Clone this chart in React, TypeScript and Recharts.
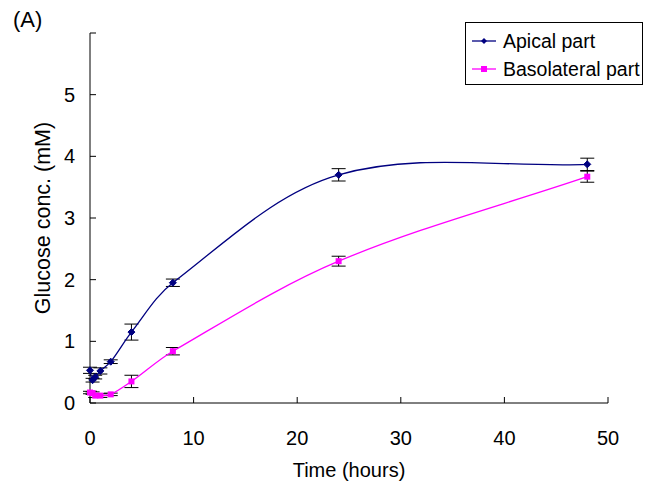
import React from 'react';
import {
  LineChart, Line, XAxis, YAxis, ErrorBar, Legend,
} from 'recharts';

// sampling times (hours)
const times = [0, 0.25, 0.5, 1, 2, 4, 8, 24, 48];

// glucose concentration (mM)
const apical = [0.53, 0.37, 0.42, 0.52, 0.67, 1.15, 1.95, 3.7, 3.87];
const apicalErr = [0.05, 0.03, 0.03, 0.05, 0.03, 0.13, 0.06, 0.1, 0.1];
const basolateral = [0.17, 0.16, 0.12, 0.12, 0.14, 0.35, 0.84, 2.3, 3.67];
const basolateralErr = [0.02, 0.02, 0.03, 0.03, 0.02, 0.1, 0.06, 0.08, 0.09];

const xTicks = [0, 10, 20, 30, 40, 50];
const yTicks = [0, 1, 2, 3, 4, 5, 6];

const APICAL = '#000080';
const BASO = '#FF00FF';
const FONT = '"Liberation Sans", Arial, sans-serif';

const data = times.map((t, i) => ({
  time: t,
  apical: apical[i],
  apicalErr: apicalErr[i],
  baso: basolateral[i],
  basoErr: basolateralErr[i],
}));

// smoothed line like Excel: tangent from neighbours, handle length from segment length
const smoothCurve = (ctx: any) => {
  let pts: [number, number][] = [];
  const tangent = (a: [number, number], b: [number, number]) => {
    const dx = b[0] - a[0];
    const dy = b[1] - a[1];
    const len = Math.hypot(dx, dy) || 1;
    return [dx / len, dy / len];
  };
  return {
    areaStart() {},
    areaEnd() {},
    lineStart() { pts = []; },
    point(x: number, y: number) { pts.push([+x, +y]); },
    lineEnd() {
      if (!pts.length) return;
      ctx.moveTo(pts[0][0], pts[0][1]);
      for (let i = 0; i < pts.length - 1; i++) {
        const p0 = pts[i - 1] || pts[i];
        const p1 = pts[i];
        const p2 = pts[i + 1];
        const p3 = pts[i + 2] || p2;
        const seg = Math.hypot(p2[0] - p1[0], p2[1] - p1[1]) / 3;
        const t1 = tangent(p0, p2);
        const t2 = tangent(p1, p3);
        ctx.bezierCurveTo(
          p1[0] + t1[0] * seg, p1[1] + t1[1] * seg,
          p2[0] - t2[0] * seg, p2[1] - t2[1] * seg,
          p2[0], p2[1],
        );
      }
    },
  };
};

const Diamond = (props: any) => {
  const { cx, cy } = props;
  if (cx == null || cy == null) return null;
  const r = 3.5;
  return <path d={`M${cx},${cy - r}L${cx + r},${cy}L${cx},${cy + r}L${cx - r},${cy}Z`} fill={APICAL} stroke={APICAL} />;
};

const Square = (props: any) => {
  const { cx, cy } = props;
  if (cx == null || cy == null) return null;
  return <rect x={cx - 3} y={cy - 3} width={6} height={6} fill={BASO} />;
};

const LegendBox = () => (
  <div style={{
    border: '1px solid #000', background: '#fff', width: 178, height: 63,
    boxSizing: 'border-box', fontFamily: FONT, fontSize: 19.5, padding: '4px 0 0 6px',
  }}>
    {[{ name: 'Apical part', color: APICAL, shape: 'd' }, { name: 'Basolateral part', color: BASO, shape: 's' }].map((s) => (
      <div key={s.name} style={{ display: 'flex', alignItems: 'center', height: 28 }}>
        <svg width={24} height={10} style={{ marginRight: 7 }}>
          <line x1={0} y1={5} x2={24} y2={5} stroke={s.color} strokeWidth={1.3} />
          {s.shape === 'd'
            ? <path d="M12,2L15,5L12,8L9,5Z" fill={s.color} />
            : <rect x={9} y={2} width={6} height={6} fill={s.color} />}
        </svg>
        <span>{s.name}</span>
      </div>
    ))}
  </div>
);

export default function App() {
  return (
    <div style={{ position: 'absolute', left: 0, top: 0, width: 648, height: 493, background: '#fff' }}>
      <div style={{ position: 'absolute', left: 13, top: 7, fontFamily: FONT, fontSize: 22, color: '#000' }}>(A)</div>
      <LineChart width={648} height={493} data={data} margin={{ top: 33, right: 40, bottom: 30, left: 40 }}>
        <XAxis
          dataKey="time"
          type="number"
          domain={[0, 50]}
          ticks={xTicks}
          height={60}
          stroke="#000"
          tickSize={-6}
          tickMargin={34}
          tick={{ fill: '#000', fontSize: 20, fontFamily: FONT }}
          label={{ value: 'Time (hours)', position: 'center', dy: 37, fill: '#000', fontSize: 20, fontFamily: FONT }}
        />
        <YAxis
          type="number"
          domain={[0, 6]}
          ticks={yTicks}
          width={50}
          stroke="#000"
          tickSize={-6}
          tickMargin={21}
          tickFormatter={(v: number) => (v === 6 ? '' : String(v))}
          tick={{ fill: '#000', fontSize: 20, fontFamily: FONT }}
          label={{ value: 'Glucose conc. (mM)', angle: -90, position: 'center', dx: -23, fill: '#000', fontSize: 21.5, fontFamily: FONT }}
        />
        <Legend
          layout="horizontal"
          verticalAlign="middle"
          align="center"
          wrapperStyle={{ left: 465, top: 22, width: 180, height: 64 }}
          content={() => <LegendBox />}
        />
        <Line
          dataKey="apical"
          name="Apical part"
          type={smoothCurve as any}
          stroke={APICAL}
          strokeWidth={1.3}
          dot={<Diamond />}
          activeDot={false}
          isAnimationActive={false}
        >
          <ErrorBar dataKey="apicalErr" width={7} stroke="#000" strokeWidth={1} isAnimationActive={false} />
        </Line>
        <Line
          dataKey="baso"
          name="Basolateral part"
          type={smoothCurve as any}
          stroke={BASO}
          strokeWidth={1.3}
          dot={<Square />}
          activeDot={false}
          isAnimationActive={false}
        >
          <ErrorBar dataKey="basoErr" width={7} stroke="#000" strokeWidth={1} isAnimationActive={false} />
        </Line>
      </LineChart>
    </div>
  );
}
